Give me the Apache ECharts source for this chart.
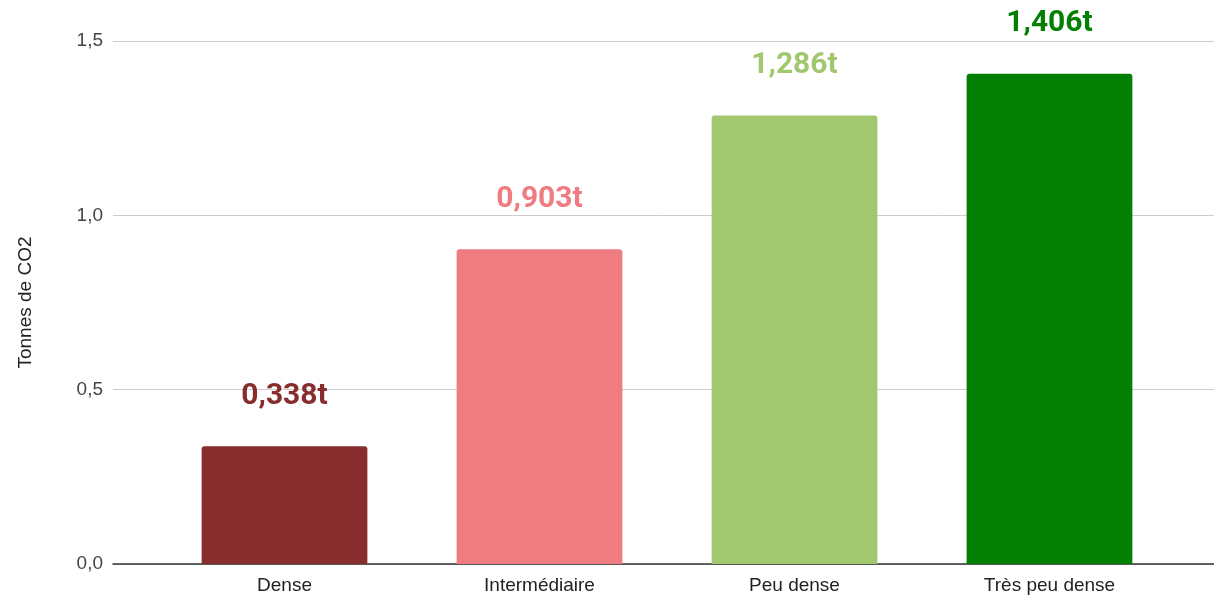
<!DOCTYPE html>
<html lang="fr">
<head>
  <meta charset="UTF-8">
  <title>Tonnes de CO2 par densité</title>
  <script src="https://cdn.jsdelivr.net/npm/echarts@6/dist/echarts.min.js"></script>
  <style>
    html, body { margin: 0; padding: 0; background: #fff; }
    #chart { width: 1214px; height: 595px; }
  </style>
</head>
<body>
  <div id="chart"></div>
  <script>
    // données
    const categories = ['Dense', 'Intermédiaire', 'Peu dense', 'Très peu dense'];
    const values = [0.338, 0.903, 1.286, 1.406];
    const barColors = ['#882d2e', '#ee7c80', '#a2c86f', '#038003'];
    const yTicks = [0, 0.5, 1.0, 1.5];

    const fmt = v => v.toFixed(3).replace('.', ',') + 't';

    const chart = echarts.init(document.getElementById('chart'));
    chart.setOption({
      animation: false,
      grid: [
        // grille large : lignes de repère + axe Y
        { left: 113, right: 0, top: 41, bottom: 31 },
        // grille des barres
        { left: 157, right: 37, top: 41, bottom: 31 }
      ],
      xAxis: [
        {
          gridIndex: 0, type: 'value', min: 0, max: 1, show: true,
          axisLine: { show: true, onZero: false, lineStyle: { color: '#333', width: 1.5 } },
          axisTick: { show: false }, axisLabel: { show: false }, splitLine: { show: false }
        },
        {
          gridIndex: 1, type: 'category', data: categories,
          axisLine: { show: false }, axisTick: { show: false },
          axisLabel: {
            color: '#222', fontSize: 19, fontFamily: 'Liberation Sans, Arial',
            margin: 12
          }
        }
      ],
      yAxis: [
        {
          gridIndex: 0, type: 'value', min: yTicks[0], max: yTicks[yTicks.length - 1], interval: 0.5,
          name: 'Tonnes de CO2', nameLocation: 'middle', nameGap: 78, nameRotate: 90,
          nameTextStyle: { color: '#222', fontSize: 19, fontFamily: 'Liberation Sans, Arial' },
          axisLine: { show: false }, axisTick: { show: false },
          axisLabel: {
            color: '#444', fontSize: 19, fontFamily: 'Liberation Sans, Arial', margin: 10,
            formatter: v => v.toFixed(1).replace('.', ',')
          },
          splitLine: { lineStyle: { color: '#cccccc', width: 1 } }
        },
        {
          gridIndex: 1, type: 'value', min: yTicks[0], max: yTicks[yTicks.length - 1],
          show: false, splitLine: { show: false }
        }
      ],
      series: [{
        type: 'bar',
        xAxisIndex: 1, yAxisIndex: 1,
        barWidth: '65%',
        data: values.map((v, i) => ({
          value: v,
          itemStyle: { color: barColors[i], borderRadius: [3, 3, 0, 0] },
          label: { color: barColors[i] }
        })),
        label: {
          show: true, position: 'top', distance: 35,
          fontSize: 30, fontWeight: 'bold', fontFamily: 'Roboto, Arial',
          formatter: p => fmt(p.value)
        }
      }]
    });
  </script>
</body>
</html>
